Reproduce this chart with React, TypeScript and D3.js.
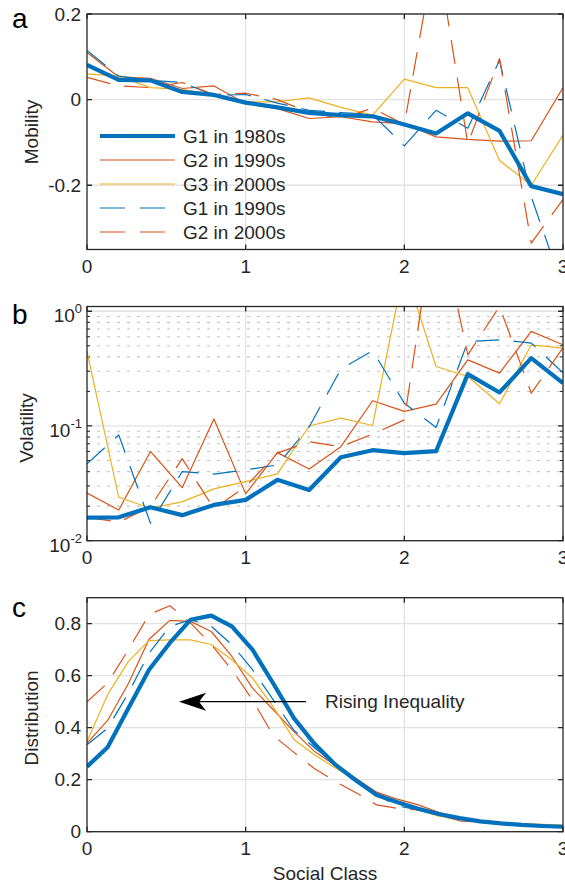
import React, { useEffect, useRef } from "react";
import * as d3 from "d3";

// series meta
const seriesNames = ["G1 in 1980s", "G2 in 1990s", "G3 in 2000s", "G1 in 1990s", "G2 in 2000s"];
const seriesColors = ["#0072BD", "#D95319", "#EDB120", "#0072BD", "#D95319"];
const seriesWidths = [4.2, 1.2, 1.2, 1.2, 1.2];
const seriesDashed = [false, false, false, true, true];

// social class grids
const classes = [0, 0.2, 0.4, 0.6, 0.8, 1, 1.2, 1.4, 1.6, 1.8, 2, 2.2, 2.4, 2.6, 2.8, 3];
const classesFine = [0, 0.13, 0.261, 0.391, 0.522, 0.652, 0.783, 0.913, 1.043, 1.174, 1.304, 1.435,
  1.565, 1.696, 1.826, 1.957, 2.087, 2.217, 2.348, 2.478, 2.609, 2.739, 2.87, 3];

// a: mobility
const mobG1_80 = [0.081, 0.046, 0.045, 0.018, 0.011, -0.007, -0.018, -0.031, -0.036, -0.039, -0.058, -0.079, -0.032, -0.073, -0.202, -0.221];
const mobG2_90 = [0.11, 0.053, 0.05, 0.026, 0.032, -0.009, -0.021, -0.044, -0.04, -0.052, -0.056, -0.087, -0.093, -0.097, -0.096, 0.028];
const mobG3_00 = [0.06, 0.055, 0.028, 0.024, 0.011, -0.005, -0.005, 0.004, -0.018, -0.036, 0.048, 0.028, 0.028, -0.142, -0.2, -0.083];
const mobG1_90 = [0.115, 0.055, 0.045, 0.04, 0.01, 0.012, -0.008, -0.025, -0.03, -0.035, -0.108, -0.025, -0.067, 0.092, -0.227, -0.44];
const mobG2_00 = [0.052, 0.032, 0.028, 0.04, 0.012, 0.015, 0, -0.03, -0.044, -0.02, -0.058, 0.36, -0.103, 0.096, -0.335, -0.233];

// b: volatility
const volG1_80 = [0.0159, 0.016, 0.0196, 0.0167, 0.0205, 0.0227, 0.0339, 0.0277, 0.0534, 0.0615, 0.058, 0.0603, 0.283, 0.196, 0.39, 0.236];
const volG2_90 = [0.026, 0.0185, 0.06, 0.029, 0.115, 0.0256, 0.0586, 0.0422, 0.066, 0.166, 0.134, 0.155, 0.377, 0.289, 0.667, 0.51];
const volG3_00 = [0.446, 0.0239, 0.0192, 0.0218, 0.0283, 0.0327, 0.0382, 0.1, 0.117, 0.101, 2.4, 0.33, 0.27, 0.156, 0.51, 0.477];
const volG1_90 = [0.0467, 0.0836, 0.0142, 0.04, 0.038, 0.0414, 0.0457, 0.098, 0.313, 0.452, 0.158, 0.097, 0.545, 0.564, 0.528, 0.29];
const volG2_00 = [0.016, 0.0145, 0.0198, 0.052, 0.019, 0.0296, 0.058, 0.073, 0.066, 0.085, 0.113, 8, 0.417, 1.1, 0.193, 0.48];

// c: distribution
const disG1_80 = [0.25, 0.325, 0.475, 0.623, 0.726, 0.815, 0.831, 0.79, 0.7, 0.57, 0.437, 0.337, 0.258, 0.197, 0.141, 0.113, 0.088, 0.068, 0.052, 0.04, 0.032, 0.026, 0.022, 0.019];
const disG2_90 = [0.34, 0.428, 0.57, 0.74, 0.813, 0.809, 0.77, 0.674, 0.552, 0.469, 0.385, 0.308, 0.255, 0.205, 0.152, 0.125, 0.103, 0.075, 0.05, 0.04, 0.033, 0.027, 0.023, 0.02];
const disG3_00 = [0.347, 0.527, 0.655, 0.735, 0.738, 0.738, 0.72, 0.661, 0.591, 0.48, 0.355, 0.295, 0.245, 0.199, 0.141, 0.11, 0.084, 0.06, 0.048, 0.041, 0.034, 0.031, 0.028, 0.025];
const disG1_90 = [0.334, 0.398, 0.533, 0.687, 0.79, 0.815, 0.79, 0.719, 0.623, 0.507, 0.39, 0.322, 0.26, 0.199, 0.141, 0.099, 0.084, 0.064, 0.051, 0.039, 0.03, 0.024, 0.019, 0.017];
const disG2_00 = [0.5, 0.572, 0.7, 0.835, 0.869, 0.803, 0.72, 0.623, 0.507, 0.37, 0.305, 0.242, 0.193, 0.15, 0.103, 0.09, 0.084, 0.064, 0.042, 0.036, 0.032, 0.026, 0.022, 0.019];

const mobTicks = [-0.2, 0, 0.2];
const disTicks = [0, 0.2, 0.4, 0.6, 0.8];
const volTicks = [0.01, 0.1, 1];
const xTicks = [0, 1, 2, 3];

const FONT = "'Liberation Sans', Arial, Helvetica, sans-serif";
const INK = "#262626";
const GRID = "#e2e2e2";

export default function App() {
  const svgRef = useRef<SVGSVGElement>(null);

  useEffect(() => {
    const svg = d3.select(svgRef.current);
    svg.selectAll("*").remove();
    svg.style("font-family", FONT);

    const left = 87, right = 563;
    const x = d3.scaleLinear().domain([0, 3]).range([left, right]);

    const panels = [
      { id: "a", top: 14, bottom: 249.5, xs: classes, series: [mobG1_80, mobG2_90, mobG3_00, mobG1_90, mobG2_00],
        y: d3.scaleLinear().domain([-0.35, 0.2]).range([249.5, 14]), ticks: mobTicks, label: "Mobility", labelX: 38, labelY: 132, letterY: 28 },
      { id: "b", top: 306.5, bottom: 540.7, xs: classes, series: [volG1_80, volG2_90, volG3_00, volG1_90, volG2_00],
        y: d3.scaleLog().domain([0.01, 1.1]).range([540.7, 306.5]), ticks: volTicks, label: "Volatility", labelX: 33, labelY: 428, letterY: 324 },
      { id: "c", top: 597.7, bottom: 831.7, xs: classesFine, series: [disG1_80, disG2_90, disG3_00, disG1_90, disG2_00],
        y: d3.scaleLinear().domain([0, 0.9]).range([831.7, 597.7]), ticks: disTicks, label: "Distribution", labelX: 38, labelY: 718, letterY: 617 },
    ];

    panels.forEach((p) => {
      const g = svg.append("g");
      const y = p.y as any;
      const isLog = p.id === "b";

      g.append("clipPath").attr("id", `clip-${p.id}`)
        .append("rect").attr("x", left).attr("y", p.top)
        .attr("width", right - left).attr("height", p.bottom - p.top);

      // minor grid (log panel)
      if (isLog) {
        const minor: number[] = [];
        [0.01, 0.1].forEach((d) => { for (let k = 2; k <= 9; k++) minor.push(d * k); });
        g.selectAll(".mgrid").data(minor).join("line")
          .attr("x1", left).attr("x2", right)
          .attr("y1", (d) => y(d)).attr("y2", (d) => y(d))
          .attr("stroke", "#c4c4c4").attr("stroke-width", 1.1).attr("stroke-dasharray", "3 7");
        // minor ticks
        g.selectAll(".mtickL").data(minor).join("path")
          .attr("d", (d) => `M${left},${y(d)}h3M${right},${y(d)}h-3`)
          .attr("stroke", INK).attr("stroke-width", 1);
      }

      // major grid
      g.selectAll(".xgrid").data(xTicks.slice(1, -1)).join("line")
        .attr("x1", (d) => x(d)).attr("x2", (d) => x(d))
        .attr("y1", p.top).attr("y2", p.bottom)
        .attr("stroke", GRID).attr("stroke-width", 1.3);
      g.selectAll(".ygrid").data(p.ticks).join("line")
        .attr("x1", left).attr("x2", right)
        .attr("y1", (d) => y(d)).attr("y2", (d) => y(d))
        .attr("stroke", GRID).attr("stroke-width", 1.3);

      // lines
      const line = d3.line<number>()
        .x((_, i) => x(p.xs[i]))
        .y((d) => y(d));
      const lg = g.append("g").attr("clip-path", `url(#clip-${p.id})`);
      // thin lines first, thick blue on top
      [1, 2, 3, 4, 0].forEach((s) => {
        lg.append("path").attr("d", line(p.series[s]))
          .attr("fill", "none")
          .attr("stroke", seriesColors[s])
          .attr("stroke-width", seriesWidths[s])
          .attr("stroke-linejoin", "round")
          .attr("stroke-dasharray", seriesDashed[s] ? "24 14" : null);
      });

      // box
      g.append("rect").attr("x", left).attr("y", p.top)
        .attr("width", right - left).attr("height", p.bottom - p.top)
        .attr("fill", "none").attr("stroke", INK).attr("stroke-width", 1.3);

      // ticks
      g.selectAll(".xt").data(xTicks).join("path")
        .attr("d", (d) => `M${x(d)},${p.bottom}v-5M${x(d)},${p.top}v5`)
        .attr("stroke", INK).attr("stroke-width", 1.3);
      g.selectAll(".yt").data(p.ticks).join("path")
        .attr("d", (d) => `M${left},${y(d)}h5M${right},${y(d)}h-5`)
        .attr("stroke", INK).attr("stroke-width", 1.3);

      // x labels
      g.selectAll(".xl").data(xTicks).join("text")
        .attr("x", (d) => x(d)).attr("y", p.bottom + 23)
        .attr("text-anchor", "middle").attr("font-size", 19).attr("fill", INK)
        .text((d) => d);

      // y labels
      if (isLog) {
        const lt = g.selectAll(".yl").data(p.ticks).join("text")
          .attr("x", left - 5).attr("y", (d) => y(d) + 11)
          .attr("text-anchor", "end").attr("font-size", 19).attr("fill", INK);
        lt.append("tspan").text("10");
        lt.append("tspan").attr("dy", -9).attr("font-size", 13)
          .text((d) => String(Math.round(Math.log10(d))));
      } else {
        g.selectAll(".yl").data(p.ticks).join("text")
          .attr("x", left - 6).attr("y", (d) => y(d)).attr("dy", "0.35em")
          .attr("text-anchor", "end").attr("font-size", 19).attr("fill", INK)
          .text((d) => (d === 0 ? "0" : String(d)));
      }

      // axis label
      g.append("text")
        .attr("transform", `translate(${p.labelX},${p.labelY}) rotate(-90)`)
        .attr("text-anchor", "middle").attr("font-size", 19).attr("fill", INK)
        .text(p.label);

      // panel letter
      g.append("text").attr("x", 12).attr("y", p.letterY)
        .attr("font-size", 28).attr("fill", "#000").text(p.id);

      // legend in panel a
      if (p.id === "a") {
        const leg = g.append("g");
        seriesNames.forEach((name, i) => {
          const ry = 136 + i * 24;
          leg.append("line").attr("x1", 100).attr("x2", 175).attr("y1", ry).attr("y2", ry)
            .attr("stroke", seriesColors[i]).attr("stroke-width", seriesWidths[i])
            .attr("stroke-dasharray", seriesDashed[i] ? "25 15" : null);
          leg.append("text").attr("x", 183).attr("y", ry).attr("dy", "0.35em")
            .attr("font-size", 19).attr("fill", INK).text(name);
        });
      }

      // annotation in panel c
      if (p.id === "c") {
        const ay = y(0.5);
        const tip = x(0.58), tail = x(1.38);
        g.append("line").attr("x1", tail).attr("x2", tip + 20).attr("y1", ay).attr("y2", ay)
          .attr("stroke", "#000").attr("stroke-width", 1.2);
        g.append("path")
          .attr("d", `M${tip},${ay}L${tip + 27},${ay - 9}L${tip + 20},${ay}L${tip + 27},${ay + 9}Z`)
          .attr("fill", "#000");
        g.append("text").attr("x", x(1.5)).attr("y", ay).attr("dy", "0.35em")
          .attr("font-size", 19).attr("fill", INK).text("Rising Inequality");
      }
    });

    svg.append("text").attr("x", x(1.5)).attr("y", 880)
      .attr("text-anchor", "middle").attr("font-size", 19).attr("fill", INK)
      .text("Social Class");
  }, []);

  return (
    <svg ref={svgRef} width={565} height={884}
      style={{ position: "absolute", left: 0, top: 0, background: "#fff" }} />
  );
}
